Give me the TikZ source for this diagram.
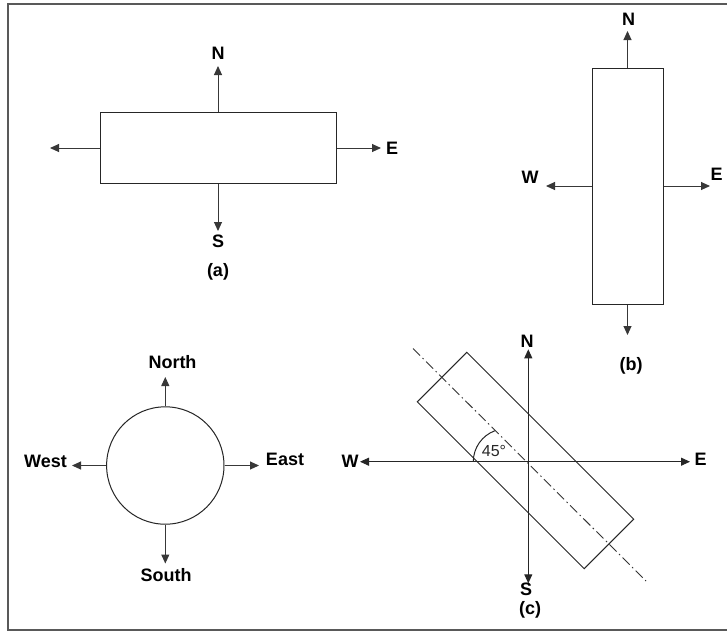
\documentclass[tikz,border=0pt]{standalone}
\usepackage{fontspec}
\setmainfont{Liberation Sans}
\usetikzlibrary{arrows.meta}
\begin{document}
\begin{tikzpicture}[x=1pt,y=-1pt,
  box/.style={draw=black!85, line width=1pt, inner sep=0pt, fill=white},
  arr/.style={draw=black!78, line width=1pt, -{Triangle[length=9pt,width=8pt]}},
  arrboth/.style={draw=black!85, line width=1pt, {Triangle[length=9pt,width=8pt]}-{Triangle[length=9pt,width=8pt]}},
  lbl/.style={font=\fontsize{18}{18}\selectfont\bfseries, inner sep=0pt, text=black},
  anglbl/.style={font=\fontsize{16}{16}\selectfont, inner sep=0pt, text=black!85},
  axisline/.style={draw=black!80, line width=0.9pt, dash pattern=on 10pt off 3.5pt on 1.5pt off 3.5pt},
  thinline/.style={draw=black!85, line width=1pt},
  frameline/.style={draw=black!65, line width=1.3pt}]
\fill[white] (0,0) rectangle (727,633);
\useasboundingbox (0,0) rectangle (727,633);
\draw[frameline] (727,4) -- (8,4) -- (8,630) -- (727,630);

% ---------- (a) ----------
\node[box, minimum width=236pt, minimum height=71pt] (ra) at (218,148) {};
\coordinate (aNt) at (218,66);
\coordinate (aWt) at (50,148);
\coordinate (aEt) at (381,148);
\coordinate (aSt) at (218,231);
\draw[arr] (ra.north) -- (aNt);
\draw[arr] (ra.west) -- (aWt);
\draw[arr] (ra.east) -- (aEt);
\draw[arr] (ra.south) -- (aSt);
\node[lbl] (aN) at (218,53) {N};
\node[lbl] (aE) at (392,148) {E};
\node[lbl] (aS) at (218,241) {S};
\node[lbl] (acap) at (218,272) {(a)};

% ---------- (b) ----------
\node[box, minimum width=71pt, minimum height=236pt] (rb) at (627.5,186) {};
\coordinate (bNt) at (627.5,31);
\coordinate (bWt) at (546,186);
\coordinate (bEt) at (710,186);
\coordinate (bSt) at (627.5,335);
\draw[arr] (rb.north) -- (bNt);
\draw[arr] (rb.west) -- (bWt);
\draw[arr] (rb.east) -- (bEt);
\draw[arr] (rb.south) -- (bSt);
\node[lbl] (bN) at (628.5,19) {N};
\node[lbl] (bW) at (530,177) {W};
\node[lbl] (bE) at (716.5,174) {E};
\node[lbl] (bcap) at (631,366) {(b)};

% ---------- compass circle ----------
\node[box, circle, minimum size=117.4pt] (ci) at (165.3,465.5) {};
\coordinate (cNt) at (165.3,377);
\coordinate (cWt) at (72,465.5);
\coordinate (cEt) at (259,465.5);
\coordinate (cSt) at (165.3,563.5);
\draw[arr] (ci.north) -- (cNt);
\draw[arr] (ci.west) -- (cWt);
\draw[arr] (ci.east) -- (cEt);
\draw[arr] (ci.south) -- (cSt);
\node[lbl] (north) at (172.5,362.5) {North};
\node[lbl] (west) at (45.5,461.5) {West};
\node[lbl] (east) at (285,459.5) {East};
\node[lbl] (south) at (166,575) {South};

% ---------- (c) ----------
\node[box, fill=none, minimum width=236pt, minimum height=70pt, rotate=-45] (rc) at (525.5,460.5) {};
\coordinate (dA) at (413,348.5);
\coordinate (dB) at (646,581);
\draw[axisline] (dA) -- (dB);
\coordinate (xW) at (360,461.7);
\coordinate (xE) at (690,461.7);
\coordinate (xN) at (528.3,349.3);
\coordinate (xS) at (528.3,583.3);
\draw[arrboth] (xW) -- (xE);
\draw[arrboth] (xS) -- (xN);
\coordinate (arcS) at (473.3,461.7);
\draw[thinline] (arcS) arc[start angle=180, end angle=250, radius=33];
\node[anglbl] (ang) at (494,451) {45°};
\node[lbl] (xNl) at (527,341) {N};
\node[lbl] (xWl) at (350,461) {W};
\node[lbl] (xEl) at (700.5,459) {E};
\node[lbl] (xSl) at (526,589) {S};
\node[lbl] (ccap) at (530,610) {(c)};
\end{tikzpicture}
\end{document}
